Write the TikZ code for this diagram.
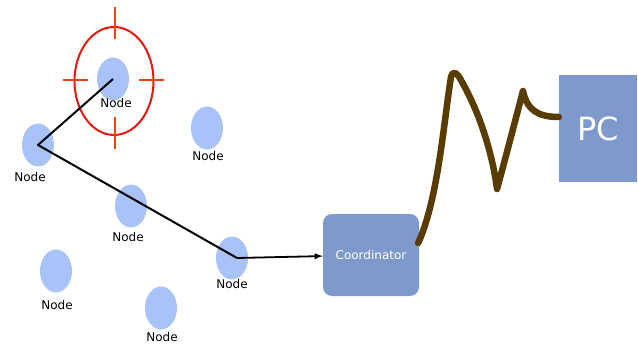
\documentclass[tikz,border=0pt]{standalone}
\usepackage{fontspec}
\setmainfont{DejaVu Sans}
\usetikzlibrary{shapes.geometric}
\definecolor{nodeblue}{HTML}{A8C2FA}
\definecolor{boxblue}{HTML}{7E99CB}
\definecolor{aimred}{HTML}{E8170F}
\definecolor{tickred}{HTML}{E8450F}
\definecolor{cablebrown}{HTML}{5A3C00}
\begin{document}
\begin{tikzpicture}[x=1pt,y=-1pt]
\tikzstyle{sensor}=[ellipse, fill=nodeblue, minimum width=32pt, minimum height=43pt, inner sep=0pt]
\tikzstyle{lbl}=[font=\fontsize{12}{14}\selectfont, inner sep=0pt]
\tikzstyle{unit}=[fill=boxblue, text=white, inner sep=0pt]
\tikzstyle{cable}=[line width=6.5pt, draw=cablebrown, line cap=round, line join=round]
\useasboundingbox (0,0) rectangle (638,345);

% sensor nodes
\node[sensor] (N1) at (113,79) {};
\node[sensor] (N2) at (38,145) {};
\node[sensor] (N3) at (207,128) {};
\node[sensor] (N4) at (131,206) {};
\node[sensor] (N5) at (232,258) {};
\node[sensor] (N6) at (56,271) {};
\node[sensor] (N7) at (161,308) {};

\node[lbl] (L1) at (116,103) {Node};
\node[lbl] (L2) at (30,177) {Node};
\node[lbl] (L3) at (208,156) {Node};
\node[lbl] (L4) at (128,237) {Node};
\node[lbl] (L5) at (232,284) {Node};
\node[lbl] (L6) at (57,305) {Node};
\node[lbl] (L7) at (162,337) {Node};

% target marker
\draw[aimred, line width=2pt] (114,81) ellipse (39.5pt and 54pt);
\draw[tickred, line width=2pt] (115,7) -- (115,39) (115,117) -- (115,149)
  (63,80) -- (88,80) (139,80) -- (164,80);

% coordinator and pc
\node[unit, rounded corners=9pt, minimum width=96pt, minimum height=82pt,
  font=\fontsize{12}{14}\selectfont] (C) at (371,255) {Coordinator};
\node[unit, minimum width=78pt, minimum height=107pt,
  font=\fontsize{32}{36}\selectfont] (P) at (598,128.5) {PC};

% route
\draw[line width=2pt, line join=round] (N1.center) -- (N2.center) -- ([xshift=5pt]N5.center);
\draw[->, >=latex, line width=1.8pt] ([xshift=5pt]N5.center) -- (C);

% cable
\draw[cable] ([yshift=12pt,xshift=-1pt]C.east) .. controls (438,200) and (444,120) .. (451,77)
  .. controls (453,70) and (457,72) .. (462,82)
  .. controls (478,110) and (492,150) .. (497,189)
  .. controls (505,160) and (518,110) .. (523,91)
  .. controls (527,110) and (538,117) .. (P.west |- 0,117);
\end{tikzpicture}
\end{document}
